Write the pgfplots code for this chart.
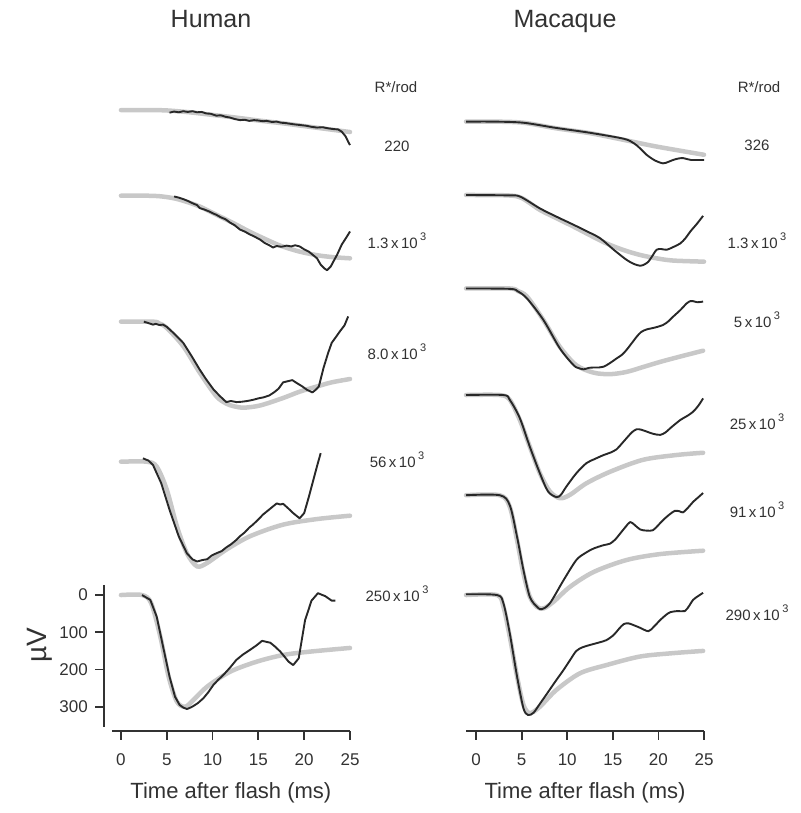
\documentclass[border=0pt]{standalone}
\usepackage{pgfplots}
\pgfplotsset{compat=1.18}
\usepackage{fontspec}
\setmainfont{Liberation Sans}
\definecolor{fitgray}{RGB}{200,200,200}
\definecolor{respcol}{RGB}{40,40,40}
\definecolor{ink}{RGB}{50,50,50}
\newcommand{\lab}[1]{\fontsize{15}{15}\selectfont #1}
\newcommand{\sci}[2]{#1\,x\,10\,\raisebox{0.55em}{\fontsize{11}{11}\selectfont #2}}
\pgfplotsset{
 trace/.style={scale only axis, clip=false, ymin=-365, ymax=1350, height=638.8pt,
   axis y line=none, axis x line=bottom, axis line style={-, line width=1.8pt, ink},
   xtick={0,5,...,25}, tick align=outside, major tick length=9pt,
   tick style={line width=1.8pt, ink},
   tick label style={font=\fontsize{17}{17}\selectfont, text=ink},
   xticklabel style={yshift=-10pt},
   /pgf/number format/assume math mode=true,
   xlabel={Time after flash (ms)},
   xlabel style={font=\fontsize{22}{22}\selectfont, text=ink, yshift=-10pt},
   table/row sep=\\},
 fitc/.style={line width=4.5pt, fitgray, smooth, line cap=round},
 respc/.style={line width=1.9pt, respcol, line join=round},
}
\begin{document}
\begin{tikzpicture}
\path[use as bounding box] (0pt,0pt) rectangle (800pt,813pt);
% ---------------- Human ----------------
\begin{axis}[trace, at={(111.8pt,82pt)}, anchor=south west, width=238.2pt, xmin=-1, xmax=25]
% 220
\addplot[fitc] table[y expr=1302-\thisrowno{1}] {0 0\\3 0\\5 1\\7.5 6\\10 13\\12.5 20\\15 28\\17.5 35\\20 43\\22.5 51\\25 59\\};
\addplot[respc] table[y expr=1302-\thisrowno{1}] {5.3 7\\5.8 4\\6.3 6\\6.8 3\\7.3 5\\7.8 3\\8.3 6\\8.8 5\\9.3 9\\9.8 10\\10.4 15\\10.9 14\\11.4 18\\11.9 20\\12.4 24\\13.0 27\\13.5 26\\14.0 29\\14.5 27\\15.0 28\\15.5 30\\15.9 29\\16.5 32\\17.0 31\\17.5 34\\18.0 35\\18.8 38\\19.5 40\\20.2 42\\20.8 45\\21.4 47\\22.0 46\\22.6 49\\23.2 51\\23.7 52\\24.1 58\\24.5 70\\24.8 85\\25 94\\};
% 1.3e3
\addplot[fitc] table[y expr=1072-\thisrowno{1}] {0 0\\3 0\\4.5 2\\6 8\\7.5 19\\8.6 29\\10 46\\12.3 74\\14 96\\15.9 118\\17.5 135\\19.5 150\\21.5 160\\23.2 165\\25 168\\};
\addplot[respc] table[y expr=1072-\thisrowno{1}] {5.8 2\\6.3 5\\6.8 9\\7.3 14\\7.8 20\\8.3 25\\8.6 33\\9.1 37\\9.6 42\\10.1 48\\10.4 51\\10.9 58\\11.4 63\\11.9 72\\12.4 79\\13.0 91\\13.5 96\\14.0 103\\14.6 110\\15.2 118\\15.7 127\\16.2 133\\16.6 139\\17.0 135\\17.5 137\\18.1 134\\18.6 136\\19.0 133\\19.5 136\\20.0 144\\20.5 150\\20.9 158\\21.4 168\\21.8 185\\22.2 195\\22.5 200\\22.9 190\\23.2 176\\23.6 158\\24.1 131\\24.6 112\\25 96\\};
% 8.0e3
\addplot[fitc] table[y expr=734-\thisrowno{1}] {0 0\\3.5 0\\4.2 5\\5.0 17\\6.8 66\\8.6 137\\10.4 200\\11.5 220\\12.3 227\\13.4 231\\15.2 225\\17.7 205\\19.5 188\\21.4 174\\23 163\\25 154\\};
\addplot[respc] table[y expr=734-\thisrowno{1}] {2.5 0\\3.0 4\\3.5 8\\3.8 6\\4.2 9\\4.6 8\\5.0 14\\5.8 32\\6.8 57\\7.7 92\\8.6 129\\9.3 155\\10.1 182\\10.8 200\\11.5 216\\12.0 213\\12.6 216\\13.2 215\\13.8 213\\14.4 210\\15.0 206\\15.6 203\\16.2 198\\16.7 190\\17.2 180\\17.7 163\\18.2 160\\18.7 157\\19.2 165\\19.8 174\\20.3 183\\20.9 190\\21.3 182\\21.6 174\\22.1 125\\22.6 85\\23.0 57\\23.5 40\\23.9 26\\24.4 10\\24.8 -14\\};
% 56e3
\addplot[fitc] table[y expr=358-\thisrowno{1}] {0 0\\2.8 0\\3.9 13\\5.0 75\\6.1 173\\7.2 246\\8.3 281\\9.4 272\\11.5 236\\14.1 200\\17.7 169\\21.4 154\\25 145\\};
\addplot[respc] table[y expr=358-\thisrowno{1}] {2.4 -9\\3.0 -3\\3.5 9\\4.4 58\\5.3 129\\6.3 200\\7.2 246\\7.8 262\\8.3 268\\8.9 264\\9.4 262\\9.9 252\\10.4 246\\11.0 240\\11.5 230\\12.0 222\\12.5 212\\13.0 200\\13.5 190\\14.0 177\\14.4 169\\15.0 155\\15.5 142\\15.9 134\\16.5 122\\17.0 112\\17.4 115\\17.7 113\\18.2 124\\18.8 138\\19.5 152\\20.0 138\\20.5 95\\21.0 49\\21.4 12\\21.8 -23\\};
% 250e3
\addplot[fitc] table[y expr=0-\thisrowno{1}] {0 0\\2.3 0\\3.3 22\\4.3 112\\5.2 219\\6.1 286\\7.0 300\\7.9 282\\9.4 246\\11.9 206\\14.8 179\\17.7 161\\20.6 152\\25 142\\};
\addplot[respc] table[y expr=0-\thisrowno{1}] {2.3 0\\3.2 13\\3.9 58\\4.6 139\\5.3 219\\5.9 273\\6.4 295\\6.8 302\\7.2 306\\7.6 302\\7.9 298\\8.4 290\\9.0 277\\9.5 262\\10.1 241\\10.6 228\\11.2 214\\11.9 195\\12.6 174\\13.3 160\\14.1 147\\14.8 135\\15.4 123\\16.3 128\\16.8 138\\17.4 152\\18.3 179\\18.8 188\\19.4 170\\20.1 67\\20.8 15\\21.5 -5\\22.3 3\\23.0 15\\23.4 15\\};
\end{axis}
% y axis (µV) for the bottom human trace
\begin{axis}[at={(104.3pt,86.5pt)}, anchor=south west, scale only axis, width=20pt, height=141.6pt,
  xmin=0, xmax=1, ymin=-27, ymax=353, y dir=reverse,
  axis x line=none, axis y line=left, axis line style={-, line width=1.8pt, ink},
  ytick={0,100,200,300}, tick align=outside, major tick length=9pt,
  tick style={line width=1.8pt, ink},
  tick label style={font=\fontsize{17}{17}\selectfont, text=ink},
  yticklabel style={xshift=-4pt},
  /pgf/number format/assume math mode=true]
\end{axis}
% ---------------- Macaque ----------------
\begin{axis}[trace, at={(466pt,82pt)}, anchor=south west, width=238pt, xmin=-1.1, xmax=25]
% 326
\addplot[fitc] table[y expr=1271-\thisrowno{1}] {-1.1 0\\2 0\\5.2 3\\8.8 18\\12.5 31\\16.2 49\\19.8 67\\25 89\\};
\addplot[respc, smooth] table[y expr=1271-\thisrowno{1}] {-1.1 0\\2 0\\5.2 3\\8.8 17\\12.5 30\\16.2 46\\17.3 58\\18.0 72\\18.7 89\\19.6 104\\20.5 112\\21.1 108\\21.6 103\\22.2 99\\22.7 98\\23.2 101\\23.6 103\\24.3 103\\25 103\\};
% 1.3e3
\addplot[fitc] table[y expr=1074-\thisrowno{1}] {-1.1 0\\3.4 1\\5 8\\7.0 40\\8.8 62\\10.7 85\\12.5 108\\14.3 130\\16.2 148\\18 161\\19.8 170\\21.6 176\\25 179\\};
\addplot[respc, smooth] table[y expr=1074-\thisrowno{1}] {-1.1 0\\3.4 1\\4.8 4\\7.0 36\\8.8 58\\10.7 80\\12.2 98\\13.6 116\\15.1 147\\16.5 174\\17.3 185\\18.0 190\\18.5 186\\18.9 179\\19.3 165\\19.8 147\\20.3 145\\20.9 147\\21.6 140\\22.4 130\\23.0 115\\23.5 98\\24.2 78\\24.9 56\\};
% 5e3
\addplot[fitc] table[y expr=823-\thisrowno{1}] {-1.1 0\\3.7 0\\4.6 7\\5.6 22\\7.4 85\\9.2 157\\11.0 206\\12.9 226\\14.7 230\\16.5 224\\18.3 211\\20.2 197\\22.5 182\\24.9 167\\};
\addplot[respc, smooth] table[y expr=823-\thisrowno{1}] {-1.1 0\\3.7 1\\4.6 8\\5.6 27\\7.4 85\\9.2 161\\10.7 206\\11.3 214\\11.8 217\\12.4 213\\12.9 212\\13.5 212\\14.0 210\\14.7 200\\15.4 188\\16.0 178\\16.5 165\\17.1 146\\17.6 130\\18.1 117\\18.7 110\\19.6 105\\20.5 98\\21.1 88\\21.6 76\\22.4 58\\23.1 40\\23.5 34\\23.8 34\\24.3 37\\24.9 35\\};
% 25e3
\addplot[fitc] table[y expr=537-\thisrowno{1}] {-1.1 0\\2.6 0\\3.7 13\\4.8 67\\5.9 139\\7.0 210\\8.1 259\\9.2 277\\10.3 268\\12.1 237\\14.7 206\\18.3 174\\22.0 161\\24.9 155\\};
\addplot[respc, smooth] table[y expr=537-\thisrowno{1}] {-1.1 0\\3.0 0\\3.7 13\\4.8 62\\5.9 139\\7.0 210\\7.9 259\\8.8 274\\9.3 268\\9.9 246\\11.0 210\\12.1 183\\13.0 172\\14.0 161\\14.7 155\\15.4 146\\16.0 130\\16.5 116\\17.1 100\\17.6 92\\18.1 93\\18.7 98\\19.4 104\\20.2 107\\20.8 100\\21.3 89\\22.4 67\\23.1 57\\23.8 45\\24.4 28\\24.9 9\\};
% 91e3
\addplot[fitc] table[y expr=268-\thisrowno{1}] {-1.1 0\\2.6 0\\3.7 31\\4.5 121\\5.2 210\\5.9 273\\6.7 300\\7.4 304\\8.5 286\\10.3 246\\12.9 206\\16.5 174\\20.2 158\\24.9 149\\};
\addplot[respc, smooth] table[y expr=268-\thisrowno{1}] {-1.1 0\\2.6 0\\3.7 27\\4.5 112\\5.2 201\\5.9 273\\6.7 300\\7.2 306\\8.1 290\\9.6 228\\11.0 174\\12.0 155\\12.9 143\\14.0 134\\14.7 130\\15.3 118\\15.8 103\\16.4 85\\16.9 72\\17.4 80\\18.0 92\\18.7 95\\19.4 94\\20.0 80\\20.5 67\\21.2 52\\21.8 42\\22.3 43\\22.7 46\\23.3 32\\23.8 18\\24.4 5\\24.9 -6\\};
% 290e3
\addplot[fitc] table[y expr=0-\thisrowno{1}] {-1.1 0\\2.3 0\\3.0 31\\3.7 112\\4.5 219\\5.2 295\\5.9 317\\7.0 300\\8.8 255\\11.4 210\\14.3 188\\18.0 165\\21.6 156\\24.9 150\\};
\addplot[respc, smooth] table[y expr=0-\thisrowno{1}] {-1.1 -2\\2.3 0\\3.0 22\\3.7 103\\4.5 219\\5.2 304\\5.7 322\\6.3 316\\7.0 292\\7.8 264\\8.7 232\\9.6 201\\10.3 175\\11.0 150\\11.7 140\\12.5 134\\13.4 128\\14.3 121\\15.1 107\\15.7 90\\16.2 78\\16.7 76\\17.2 80\\18.0 88\\18.9 97\\19.5 85\\20.2 67\\20.8 54\\21.3 46\\22.1 43\\22.9 43\\23.4 28\\23.8 13\\24.4 2\\24.9 -6\\};
\end{axis}
% ---------------- texts ----------------
\begin{scope}[every node/.style={text=ink, inner sep=0pt}]
\node[anchor=base, font=\fontsize{25}{25}\selectfont] at (211pt,785.3pt) {Human};
\node[anchor=base, font=\fontsize{25}{25}\selectfont] at (565pt,785.3pt) {Macaque};
\node[anchor=base] at (396pt,720pt) {\lab{R*/rod}};
\node[anchor=base] at (759pt,720pt) {\lab{R*/rod}};
\node[anchor=base] at (397pt,661.6pt) {\lab{220}};
\node[anchor=base] at (397pt,564.6pt) {\lab{\sci{1.3}{3}}};
\node[anchor=base] at (397pt,453.6pt) {\lab{\sci{8.0}{3}}};
\node[anchor=base] at (397pt,345.6pt) {\lab{\sci{56}{3}}};
\node[anchor=base] at (397pt,211.6pt) {\lab{\sci{250}{3}}};
\node[anchor=base] at (757pt,662.6pt) {\lab{326}};
\node[anchor=base] at (757pt,564.6pt) {\lab{\sci{1.3}{3}}};
\node[anchor=base] at (757pt,485.6pt) {\lab{\sci{5}{3}}};
\node[anchor=base] at (757pt,383.6pt) {\lab{\sci{25}{3}}};
\node[anchor=base] at (757pt,295.6pt) {\lab{\sci{91}{3}}};
\node[anchor=base] at (757pt,192.6pt) {\lab{\sci{290}{3}}};
\node[rotate=90, font=\fontsize{28}{28}\selectfont] at (40pt,168pt) {µV};
\end{scope}
\end{tikzpicture}
\end{document}
